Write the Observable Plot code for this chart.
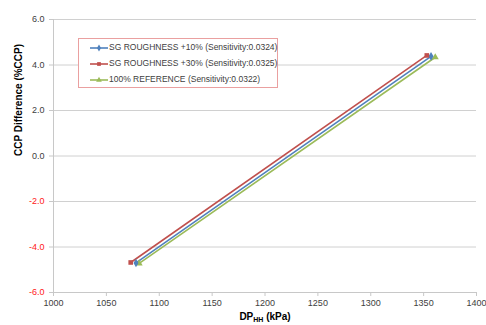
<!DOCTYPE html>
<html><head><meta charset="utf-8">
<script src="https://cdn.jsdelivr.net/npm/d3@7"></script>
<script src="https://cdn.jsdelivr.net/npm/@observablehq/plot@0.6"></script>
<style>
body{margin:0;background:#fff;}
#wrap{position:relative;width:486px;height:325px;}
#legend{position:absolute;left:78px;top:38px;width:200px;height:50px;border:1px solid #eaa0a0;box-sizing:border-box;background:#fff;font:8.5px "Liberation Sans",sans-serif;color:#404040;}
#legend div{position:absolute;left:10px;height:10px;line-height:10px;white-space:nowrap;}
#legend svg{vertical-align:middle;}
svg text.neg{fill:#ff2020 !important;}
</style></head>
<body><div id="wrap"><div id="legend"></div></div>
<script>
const seriesNames = ["SG ROUGHNESS +10% (Sensitivity:0.0324)", "SG ROUGHNESS +30% (Sensitivity:0.0325)", "100% REFERENCE (Sensitivity:0.0322)"];
const seriesColors = ["#4f81bd", "#c0504d", "#9bbb59"];
const seriesSymbols = ["diamond", "square", "triangle"];
const dp10 = [1078, 1357];
const ccp10 = [-4.70, 4.38];
const dp30 = [1073, 1353];
const ccp30 = [-4.68, 4.42];
const dpRef = [1081, 1361];
const ccpRef = [-4.72, 4.34];
const xTicks = [1000, 1050, 1100, 1150, 1200, 1250, 1300, 1350, 1400];
const yTicks = [-6, -4, -2, 0, 2, 4, 6];

const rows = [];
[[dp10, ccp10], [dp30, ccp30], [dpRef, ccpRef]].forEach(([xs, ys], i) => {
  xs.forEach((x, j) => rows.push({series: seriesNames[i], dp: x, ccp: ys[j]}));
});
const order = [2, 0, 1]; // draw green, blue, red
const ordered = order.flatMap(i => rows.filter(r => r.series === seriesNames[i]));
const yNeg = yTicks.filter(d => d < 0);
const yPos = yTicks.filter(d => d >= 0);

const chart = Plot.plot({
  width: 486, height: 325,
  marginLeft: 53, marginRight: 10, marginTop: 19, marginBottom: 33,
  style: {fontFamily: "'Liberation Sans', sans-serif", fontSize: "9px", color: "#404040", background: "#fff"},
  x: {domain: [1000, 1400]},
  y: {domain: [-6, 6]},
  color: {domain: seriesNames, range: seriesColors},
  symbol: {domain: seriesNames, range: seriesSymbols},
  marks: [
    Plot.gridY(yTicks, {stroke: "#d0d0d0", strokeOpacity: 1, strokeWidth: 1}),
    Plot.ruleX([1000], {stroke: "#c8c8c8"}),
    Plot.ruleY([-6], {stroke: "#c8c8c8"}),
    Plot.axisX({ticks: xTicks, tickSize: 4, tickPadding: 3, stroke: "#c8c8c8", fill: "#404040", label: null, tickFormat: d3.format("d")}),
    Plot.axisY(yPos, {tickSize: 4, tickPadding: 5, stroke: "#c8c8c8", fill: "#404040", label: null, tickFormat: d => d.toFixed(1)}),
    Plot.axisY(yNeg, {tickSize: 4, tickPadding: 5, stroke: "#c8c8c8", fill: "#ff2020", label: null, tickFormat: d => d.toFixed(1)}),
    Plot.line(ordered, {x: "dp", y: "ccp", z: "series", stroke: "series", strokeWidth: 1.6}),
    Plot.dot(ordered, {x: "dp", y: "ccp", symbol: "series", fill: "series", r: 2.6}),
    Plot.text(["CCP Difference (%CCP)"], {frameAnchor: "left", dx: -35, rotate: -90, fontWeight: "bold", fontSize: 10, fill: "#000"}),
    Plot.text(["DP_HH (kPa)"], {frameAnchor: "bottom", dy: 27, fontWeight: "bold", fontSize: 10, fill: "#000"})
  ]
});
const svg = d3.select(chart);
svg.selectAll("text").filter(function(){ return /^[-\u2212]\d\.\d$/.test(this.textContent.trim()); }).classed("neg", true).attr("fill", "#ff2020");
svg.selectAll("text").filter(function(){ return this.textContent === "DP_HH (kPa)"; }).each(function(){
  const t = d3.select(this); t.text(null);
  t.append("tspan").text("DP");
  t.append("tspan").attr("font-size", 7).attr("dy", 2).text("HH");
  t.append("tspan").attr("dy", -2).text(" (kPa)");
});
document.getElementById("wrap").prepend(chart);

const leg = document.getElementById("legend");
seriesNames.forEach((name, i) => {
  const row = document.createElement("div");
  row.style.top = (3 + i * 16) + "px";
  const sw = d3.create("svg").attr("width", 20).attr("height", 10);
  sw.append("line").attr("x1", 1).attr("x2", 19).attr("y1", 5).attr("y2", 5).attr("stroke", seriesColors[i]).attr("stroke-width", 1.6);
  sw.append("path").attr("transform", "translate(10,5)").attr("d", d3.symbol(i === 0 ? d3.symbolDiamond : i === 1 ? d3.symbolSquare : d3.symbolTriangle, 14)()).attr("fill", seriesColors[i]);
  row.appendChild(sw.node());
  const s = document.createElement("span"); s.textContent = name; row.appendChild(s);
  leg.appendChild(row);
});
</script></body></html>
